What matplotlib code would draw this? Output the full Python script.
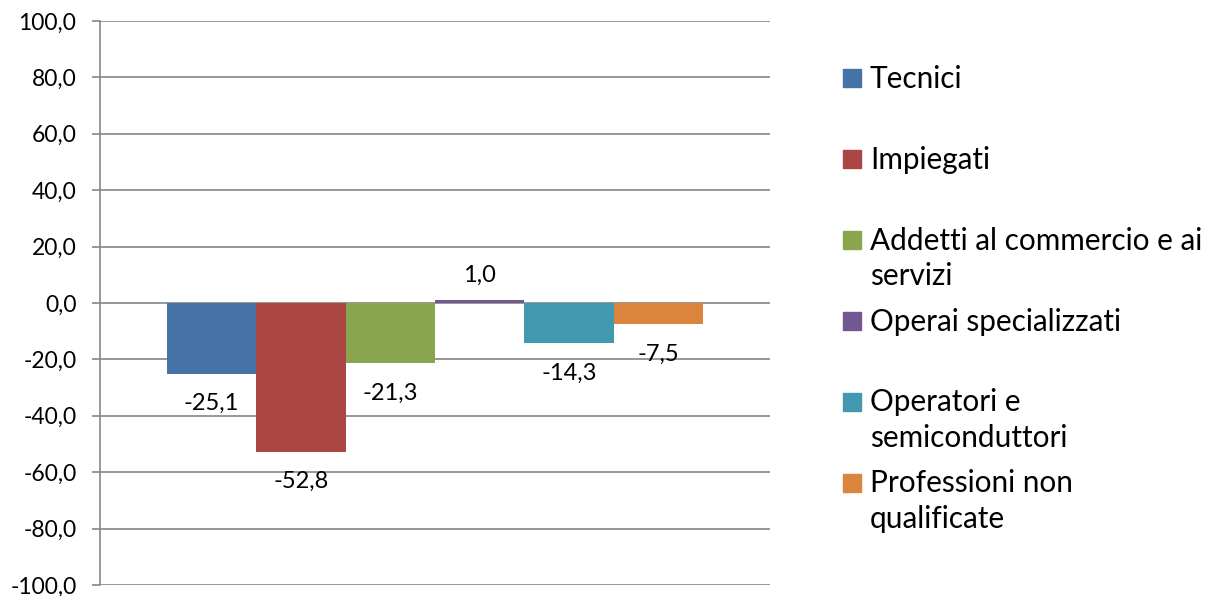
import numpy as np
import matplotlib
matplotlib.use("Agg")
import matplotlib.pyplot as plt
from matplotlib.patches import Rectangle
from matplotlib.ticker import FuncFormatter

plt.rcParams['font.family'] = ['Lato', 'DejaVu Sans']

# data
categories = ['Tecnici', 'Impiegati', 'Addetti al commercio e ai\nservizi',
              'Operai specializzati', 'Operatori e\nsemiconduttori',
              'Professioni non\nqualificate']
values = [-25.1, -52.8, -21.3, 1.0, -14.3, -7.5]
colors = ['#4572A7', '#AA4643', '#89A54E', '#71588F', '#4198AF', '#DB843D']
y_ticks = np.arange(-100, 101, 20)

def fmt(v):
    return f'{v:.1f}'.replace('.', ',')

W, H = 1209, 596
fig = plt.figure(figsize=(W / 100, H / 100), dpi=100)
ax = fig.add_axes([100 / W, 1 - 585 / H, 670 / W, 564 / H])

n = len(values)
bw = 0.8 / n
xs = -0.4 + bw / 2 + np.arange(n) * bw
ax.bar(xs, values, width=bw, color=colors, zorder=3)

for x, v in zip(xs, values):
    off = 18 if v >= 0 else -21.5
    ax.annotate(fmt(v), (x, v), xytext=(0, off), textcoords='offset points',
                ha='center', va='center', fontsize=17, color='black', zorder=4)

ax.set_xlim(-0.5, 0.5)
ax.set_ylim(-100, 100)
ax.set_yticks(y_ticks)
ax.yaxis.set_major_formatter(FuncFormatter(lambda v, p: fmt(v)))
ax.set_xticks([])
ax.grid(axis='y', color='#868686', linewidth=1.2, zorder=0)
for s in ['top', 'right', 'bottom']:
    ax.spines[s].set_visible(False)
ax.spines['left'].set_color('#868686')
ax.spines['left'].set_linewidth(1.2)
ax.tick_params(axis='y', direction='out', length=6, width=1.2, color='#868686',
               pad=11, labelsize=16.5, labelcolor='black')

# legend
y0, step = 78, 81.0
for i, (lab, c) in enumerate(zip(categories, colors)):
    yc = y0 + i * step
    fig.add_artist(Rectangle((843 / W, 1 - (yc + 9) / H), 18 / W, 18 / H,
                             transform=fig.transFigure, color=c))
    fig.text(870 / W, 1 - (yc - 13.5) / H, lab, ha='left', va='top',
             fontsize=21.4, linespacing=1.34)

fig.savefig('out.png', dpi=100)
